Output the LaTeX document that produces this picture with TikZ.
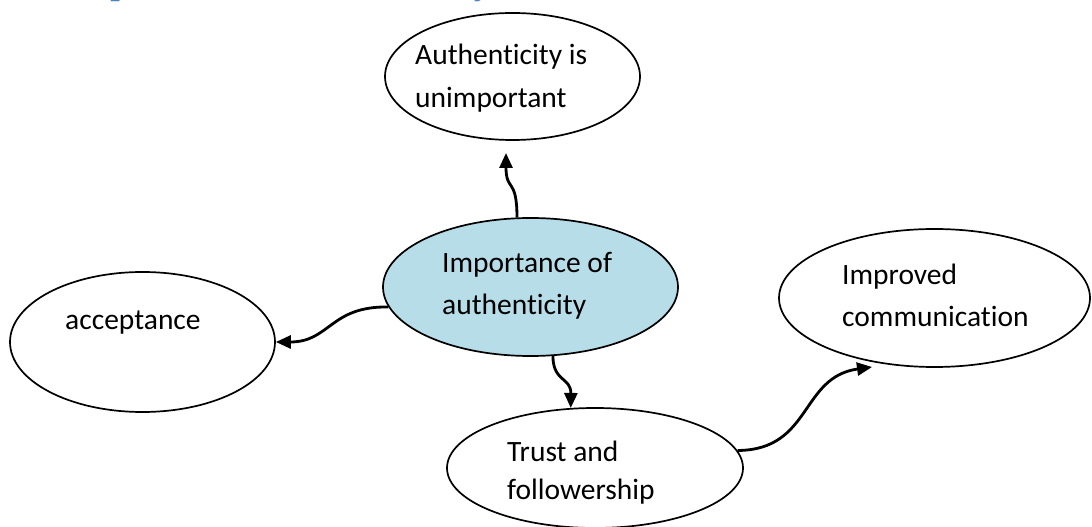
\documentclass[tikz,border=0pt]{standalone}
\usepackage{fontspec}
\setmainfont[Ligatures=NoCommon]{Carlito}
\newfontfamily\headfont{Liberation Serif}
\usetikzlibrary{shapes.geometric,arrows.meta}
\definecolor{centerfill}{RGB}{183,221,232}
\definecolor{headblue}{RGB}{79,129,189}
\tikzset{
  bubble/.style={draw=black, line width=1.7pt, ellipse, inner sep=0pt, fill=white},
  label text/.style={anchor=base west, inner sep=0pt, font=\fontsize{29.5}{35}\selectfont},
  conn/.style={line width=2.8pt, -{Triangle[length=15pt,width=13pt]}},
  headfrag/.style={anchor=base west, inner sep=0pt, text=headblue, font=\headfont\fontsize{34}{40}\selectfont\bfseries\itshape}
}
\begin{document}
\begin{tikzpicture}[x=1pt,y=1pt]
\useasboundingbox (0,0) rectangle (1092,527);
% heading fragments (cut off at the top edge in the reference)
\node[headfrag] (hp) at (113,532.5) {p};
\node[headfrag] (hy) at (478,532.5) {y};
% ellipses
\node[bubble, minimum width=255pt, minimum height=127pt] (top) at (512.5,450.5) {};
\node[bubble, fill=centerfill, minimum width=295pt, minimum height=138pt] (c) at (530.5,240) {};
\node[bubble, minimum width=265pt, minimum height=140pt] (acc) at (142.5,185) {};
\node[bubble, minimum width=311pt, minimum height=138pt] (imp) at (934.5,229) {};
\node[bubble, minimum width=296pt, minimum height=120pt] (tr) at (595,59) {};
% texts
\node[label text] (topA) at (415,462) {Authenticity is};
\node[label text] (topB) at (415,419) {unimportant};
\node[label text] (cA) at (442,254) {Importance of};
\node[label text] (cB) at (442,212) {authenticity};
\node[label text] (accA) at (65,197) {acceptance};
\node[label text] (impA) at (842,242) {Improved};
\node[label text] (impB) at (842,200) {communication};
\node[label text] (trA) at (507,65) {Trust and};
\node[label text] (trB) at (507,27) {followership};
% connector end points
\coordinate (tipTop) at (506,374);
\coordinate (tipImp) at (872,160);
% connectors
\draw[conn] (c.101) .. controls (517,350) and (506,335) .. (tipTop);
\draw[conn] (c.188) .. controls (330,221) and (330,185) .. (acc.east);
\draw[conn] (c.288) .. controls (553,145) and (571,150) .. (tr.112);
\draw[conn] (tr.7) .. controls (812,77) and (800,150) .. (tipImp);
\end{tikzpicture}
\end{document}
